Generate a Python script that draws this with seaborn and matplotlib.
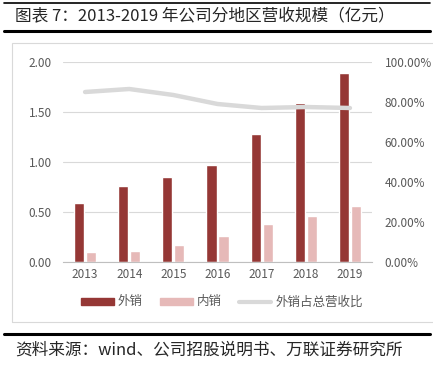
import numpy as np
import pandas as pd
import matplotlib
matplotlib.use('Agg')
import matplotlib.pyplot as plt
from matplotlib.lines import Line2D
from matplotlib.patches import Rectangle, Patch
import seaborn as sns

years = ['2013', '2014', '2015', '2016', '2017', '2018', '2019']
export_sales = [0.59, 0.76, 0.85, 0.97, 1.28, 1.59, 1.89]
domestic_sales = [0.10, 0.11, 0.17, 0.26, 0.38, 0.46, 0.56]
export_share = [85.0, 86.5, 83.5, 79.0, 77.0, 77.5, 77.0]

c_out = '#953735'
c_in = '#E6B9B8'
c_line = '#D9D9D9'
c_text = '#595959'

sns.set_style('white')
plt.rcParams['font.family'] = ['Noto Sans CJK SC', 'DejaVu Sans']

df = pd.DataFrame({
    'year': years * 2,
    'type': ['外销'] * len(years) + ['内销'] * len(years),
    'value': export_sales + domestic_sales,
})

W, H = 433, 372
fig = plt.figure(figsize=(W / 100, H / 100), dpi=100)
ax = fig.add_axes([63 / W, 1 - 262 / H, (372 - 63) / W, 200 / H])

sns.barplot(data=df, x='year', y='value', hue='type', palette=[c_out, c_in],
            width=0.54, gap=0.15, ax=ax, legend=False, saturation=1)
ax.set_ylim(0, 2)
ax.set_yticks([0, 0.5, 1.0, 1.5, 2.0])
ax.set_yticklabels(['%.2f' % v for v in [0, 0.5, 1.0, 1.5, 2.0]])
ax.set_xlabel('')
ax.set_ylabel('')
ax.grid(axis='y', color=c_line, lw=0.8)
ax.set_axisbelow(True)
for s in ['top', 'right', 'left']:
    ax.spines[s].set_visible(False)
ax.spines['bottom'].set_color('#BFBFBF')
ax.tick_params(axis='both', length=0, colors=c_text, labelsize=8.5)
ax.tick_params(axis='y', pad=8)
ax.tick_params(axis='x', pad=4)

ax2 = ax.twinx()
sns.lineplot(x=np.arange(len(years)), y=export_share, ax=ax2, color=c_line,
             lw=3.2, legend=False)
ax2.set_ylim(0, 100)
ax2.set_yticks([0, 20, 40, 60, 80, 100])
ax2.set_yticklabels(['%.2f%%' % v for v in [0, 20, 40, 60, 80, 100]])
for s in ['top', 'right', 'left', 'bottom']:
    ax2.spines[s].set_visible(False)
ax2.tick_params(axis='y', length=0, colors=c_text, labelsize=8.5, pad=9)
ax.set_xlim(-0.5, len(years) - 0.5)

handles = [Patch(color=c_out), Patch(color=c_in), Line2D([], [], color=c_line, lw=3)]
fig.legend(handles, ['外销', '内销', '外销占总营收比'], loc='center',
           bbox_to_anchor=(222 / W, 1 - 302 / H), ncol=3, frameon=False,
           fontsize=9, labelcolor=c_text, handlelength=2.6, handleheight=0.5,
           columnspacing=1.4, handletextpad=0.3)

# chart frame
fig.patches.append(Rectangle((12 / W, 1 - 322 / H), (W - 10) / W, 279 / H,
                             transform=fig.transFigure, fill=False,
                             edgecolor='#D9D9D9', lw=0.8))

# header / footer rules
fig.add_artist(Line2D([4 / W, 430 / W], [1 - 3 / H, 1 - 3 / H], color='black', lw=1.2))
fig.add_artist(Line2D([4 / W, 430 / W], [1 - 31 / H, 1 - 31 / H], color='black', lw=2.2))
fig.add_artist(Line2D([4 / W, 430 / W], [1 - 334 / H, 1 - 334 / H], color='black', lw=2.2))

fig.text(15 / W, 1 - 17 / H, '图表 7：2013-2019 年公司分地区营收规模（亿元）',
         fontsize=12, color='#262626', va='center', ha='left')
fig.text(15 / W, 1 - 350 / H, '资料来源：wind、公司招股说明书、万联证券研究所',
         fontsize=12, color='#262626', va='center', ha='left', style='italic')

fig.savefig('out.png', dpi=100)
